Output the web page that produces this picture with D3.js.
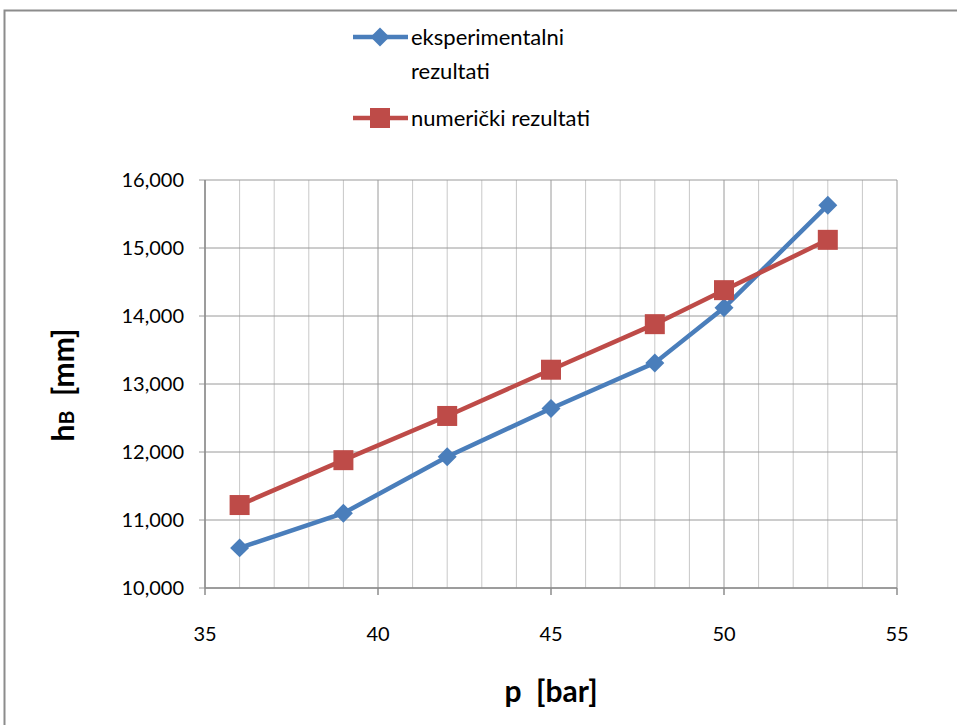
<!DOCTYPE html>
<html><head><meta charset="utf-8">
<script src="https://cdn.jsdelivr.net/npm/d3@7"></script>
<style>body{margin:0;background:#fff}svg{display:block}</style>
</head><body>
<script>
const pressures = [36, 39, 42, 45, 48, 50, 53];
const experimental = [10590, 11100, 11930, 12640, 13310, 14120, 15630];
const numerical = [11220, 11880, 12530, 13210, 13880, 14380, 15120];
const xTicks = [35, 40, 45, 50, 55];
const yTicks = [10000, 11000, 12000, 13000, 14000, 15000, 16000];

const W = 957, H = 725;
const svg = d3.select("body").append("svg").attr("width", W).attr("height", H);
const font = "Lato, 'Open Sans', sans-serif";

svg.append("rect").attr("x", 4.5).attr("y", 10.5).attr("width", 1000).attr("height", 1000)
  .attr("fill", "#fff").attr("stroke", "#8c8c8c").attr("stroke-width", 2);

const x = d3.scaleLinear().domain([35, 55]).range([205, 897]);
const y = d3.scaleLinear().domain([10000, 16000]).range([588, 180]);

const g = svg.append("g");
g.selectAll(".vmin").data(d3.range(35, 56, 1)).join("line")
  .attr("x1", d => x(d)).attr("x2", d => x(d)).attr("y1", y(16000)).attr("y2", y(10000))
  .attr("stroke", d => d % 5 === 0 ? "#9a9a9a" : "#c8c8c8").attr("stroke-width", 1);
g.selectAll(".hg").data(yTicks).join("line")
  .attr("x1", x(35) - 6).attr("x2", x(55)).attr("y1", d => y(d)).attr("y2", d => y(d))
  .attr("stroke", "#9a9a9a").attr("stroke-width", 1);
g.append("line").attr("x1", x(35)).attr("x2", x(55)).attr("y1", y(10000)).attr("y2", y(10000))
  .attr("stroke", "#8c8c8c").attr("stroke-width", 1.5);
g.append("line").attr("x1", x(35)).attr("x2", x(35)).attr("y1", y(16000)).attr("y2", y(10000))
  .attr("stroke", "#8c8c8c").attr("stroke-width", 1.5);
g.selectAll(".xt").data(xTicks).join("line")
  .attr("x1", d => x(d)).attr("x2", d => x(d)).attr("y1", y(10000)).attr("y2", y(10000) + 7)
  .attr("stroke", "#8c8c8c").attr("stroke-width", 1.5);

svg.selectAll(".xl").data(xTicks).join("text")
  .attr("x", d => x(d)).attr("y", 641).attr("text-anchor", "middle")
  .attr("font-family", font).attr("font-size", 20).attr("fill", "#000").text(d => d);
svg.selectAll(".yl").data(yTicks).join("text")
  .attr("x", 184).attr("y", d => y(d) + 7).attr("text-anchor", "end")
  .attr("font-family", font).attr("font-size", 20).attr("fill", "#000")
  .text(d => d3.format(",")(d));

svg.append("text").attr("x", x(45)).attr("y", 702).attr("text-anchor", "middle")
  .attr("font-family", font).attr("font-size", 30).attr("font-weight", "bold").text("p\u00A0\u00A0[bar]");
const yt = svg.append("text").attr("transform", "translate(74,385) rotate(-90)")
  .attr("text-anchor", "middle").attr("font-family", font).attr("font-size", 30).attr("font-weight", "bold");
yt.append("tspan").text("h");
yt.append("tspan").attr("font-size", 21).text("B");
yt.append("tspan").text("\u00A0\u00A0[mm]");

const blue = "#4A7EBB", red = "#BE4B48";
const line = d3.line().x(d => x(d[0])).y(d => y(d[1]));
const expData = pressures.map((p, i) => [p, experimental[i]]);
const numData = pressures.map((p, i) => [p, numerical[i]]);

svg.append("path").datum(expData).attr("d", line).attr("fill", "none").attr("stroke", blue).attr("stroke-width", 4.5);
svg.append("path").datum(numData).attr("d", line).attr("fill", "none").attr("stroke", red).attr("stroke-width", 4.5);
const diamond = d3.symbol().type(d3.symbolSquare).size(180);
svg.selectAll(".dm").data(expData).join("path")
  .attr("transform", d => `translate(${x(d[0])},${y(d[1])}) rotate(45)`).attr("d", diamond).attr("fill", blue);
svg.selectAll(".sq").data(numData).join("rect")
  .attr("x", d => x(d[0]) - 10).attr("y", d => y(d[1]) - 10).attr("width", 20).attr("height", 20).attr("fill", red);

const lg = svg.append("g");
lg.append("line").attr("x1", 353).attr("x2", 408).attr("y1", 37).attr("y2", 37).attr("stroke", blue).attr("stroke-width", 4.5);
lg.append("path").attr("transform", "translate(380,37) rotate(45)").attr("d", diamond).attr("fill", blue);
lg.append("text").attr("x", 411).attr("y", 45).attr("font-family", font).attr("font-size", 22).text("eksperimentalni");
lg.append("text").attr("x", 411).attr("y", 79).attr("font-family", font).attr("font-size", 22).text("rezultati");
lg.append("line").attr("x1", 353).attr("x2", 408).attr("y1", 118).attr("y2", 118).attr("stroke", red).attr("stroke-width", 4.5);
lg.append("rect").attr("x", 370).attr("y", 108).attr("width", 20).attr("height", 20).attr("fill", red);
lg.append("text").attr("x", 411).attr("y", 126).attr("font-family", font).attr("font-size", 22).text("numerički rezultati");
</script>
</body></html>
